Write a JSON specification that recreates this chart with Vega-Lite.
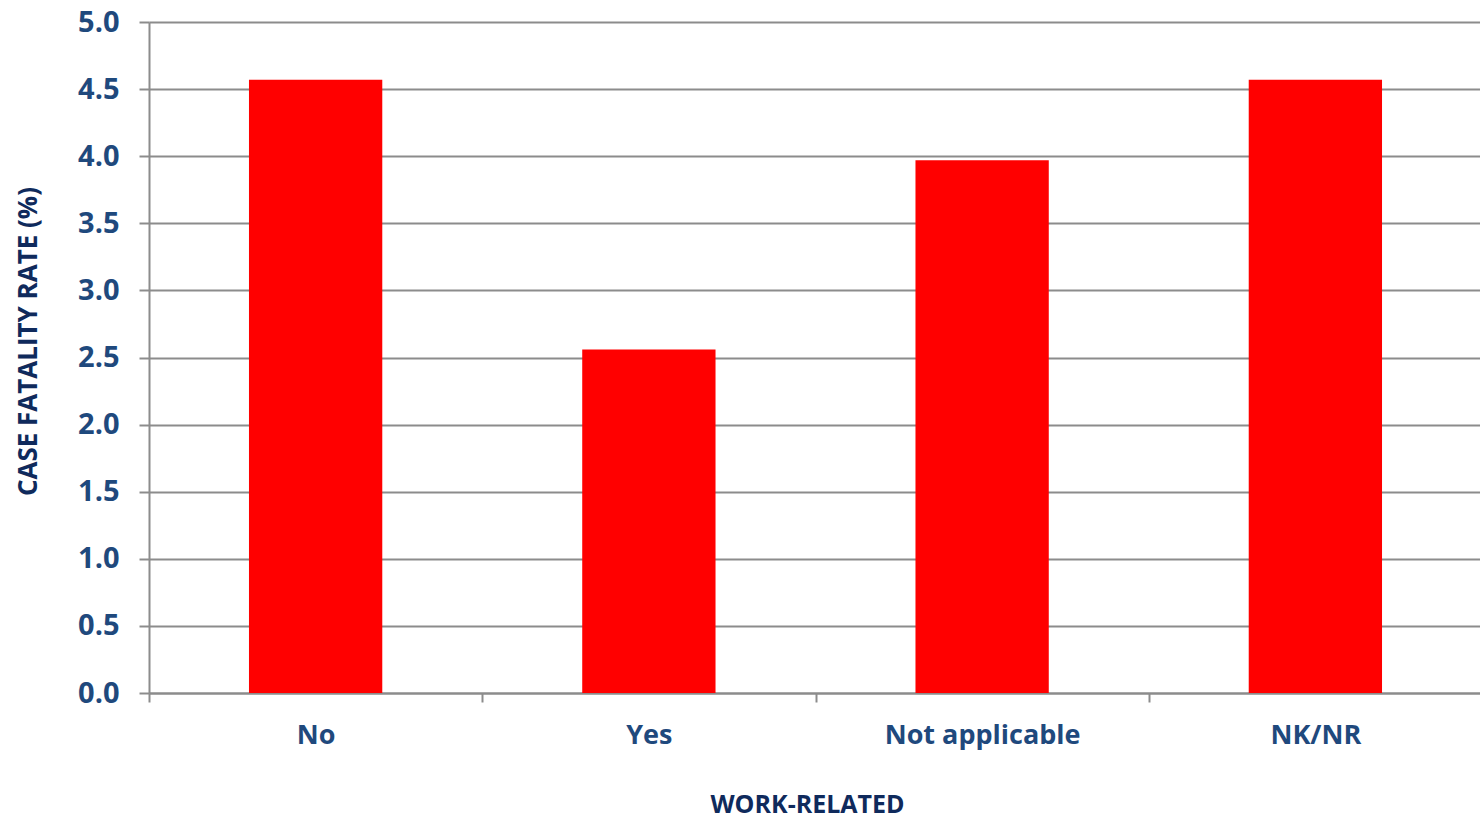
{
  "$schema": "https://vega.github.io/schema/vega-lite/v6.json",
  "width": 1333,
  "height": 671,
  "autosize": {"type": "none"},
  "padding": {"left": 149, "top": 22, "right": 0, "bottom": 126},
  "background": "white",
  "config": {"view": {"stroke": null}, "font": "Open Sans"},
  "data": {"values": [
    {"cat": "No", "rate": 4.57},
    {"cat": "Yes", "rate": 2.56},
    {"cat": "Not applicable", "rate": 3.97},
    {"cat": "NK/NR", "rate": 4.57}
  ]},
  "mark": {"type": "bar", "color": "#ff0000", "width": {"band": 0.4}},
  "encoding": {
    "x": {
      "field": "cat", "type": "nominal", "sort": null,
      "scale": {"paddingInner": 0, "paddingOuter": 0},
      "axis": {
        "title": "WORK-RELATED", "labelAngle": 0, "tickBand": "extent", "labelLimit": 0,
        "domainColor": "#8c8c8c", "domainWidth": 2, "tickColor": "#8c8c8c", "tickWidth": 2, "tickSize": 9,
        "labelFont": "Open Sans", "labelFontSize": 27, "labelFontWeight": "bold", "labelColor": "#1f497d", "labelPadding": 20,
        "titleFont": "Open Sans", "titleFontSize": 25, "titleFontWeight": "bold", "titleColor": "#0f2a5c",
        "titleX": 658, "titleY": 111, "titleBaseline": "middle", "titleAnchor": "middle"
      }
    },
    "y": {
      "field": "rate", "type": "quantitative",
      "scale": {"domain": [0, 5]},
      "axis": {
        "title": "CASE FATALITY RATE (%)", "values": [0, 0.5, 1, 1.5, 2, 2.5, 3, 3.5, 4, 4.5, 5], "format": ".1f",
        "grid": true, "gridColor": "#8c8c8c", "gridWidth": 2,
        "domainColor": "#8c8c8c", "domainWidth": 2, "tickColor": "#8c8c8c", "tickWidth": 2, "tickSize": 10,
        "labelFont": "Open Sans", "labelFontSize": 29, "labelFontWeight": "bold", "labelColor": "#1f497d", "labelPadding": 20,
        "titleFont": "Open Sans", "titleFontSize": 26, "titleFontWeight": "bold", "titleColor": "#0f2a5c",
        "titleX": -121, "titleY": 319, "titleAngle": 270, "titleBaseline": "middle", "titleAlign": "center"
      }
    }
  }
}
